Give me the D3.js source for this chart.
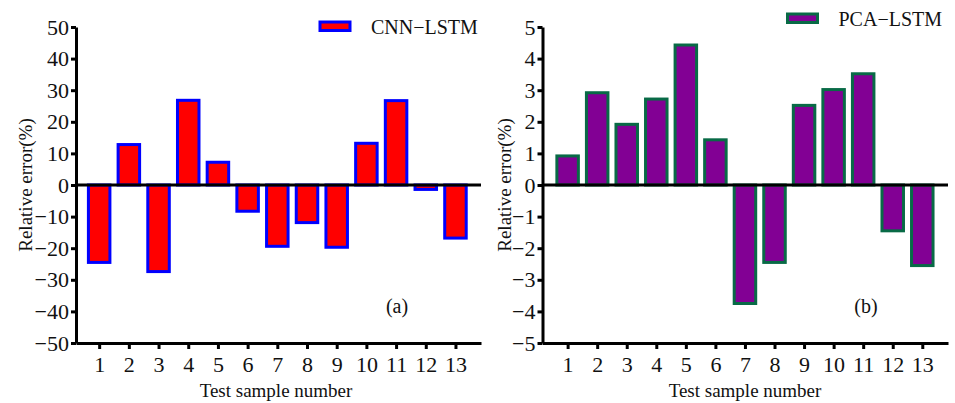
<!DOCTYPE html>
<html>
<head>
<meta charset="utf-8">
<script src="https://cdn.jsdelivr.net/npm/d3@7"></script>
<style>
  body { margin: 0; background: #fff; }
  svg text { font-family: "Liberation Serif", "Times New Roman", serif; fill: #111; }
</style>
</head>
<body>
<script>
// samples 1..13
var samples = [1, 2, 3, 4, 5, 6, 7, 8, 9, 10, 11, 12, 13];
// relative error (%)
var cnnLstm = [-24.5, 12.8, -27.4, 26.8, 7.2, -8.3, -19.4, -11.9, -19.7, 13.2, 26.7, -1.4, -16.8];
var pcaLstm = [0.92, 2.92, 1.92, 2.72, 4.43, 1.43, -3.75, -2.45, 2.52, 3.02, 3.52, -1.45, -2.55];
var leftTicks = [-50, -40, -30, -20, -10, 0, 10, 20, 30, 40, 50];
var rightTicks = [-5, -4, -3, -2, -1, 0, 1, 2, 3, 4, 5];

var W = 955, H = 403;
var serif = "Liberation Serif, Times New Roman, serif";

var svg = d3.select("body").append("svg")
    .attr("width", W)
    .attr("height", H);

function minus(v) {
    return v < 0 ? "\u2212" + Math.abs(v) : String(v);
}

function panel(opt) {
    var g = svg.append("g");

    var xScale = d3.scaleLinear()
        .domain(opt.xDomain)
        .range([opt.x0, opt.x1]);
    var yScale = d3.scaleLinear()
        .domain([opt.ticks[0], opt.ticks[opt.ticks.length - 1]])
        .range([opt.y1, opt.y0]);

    var barW = 21.5;

    // bars
    g.append("g").selectAll("rect")
        .data(opt.values)
        .enter()
        .append("rect")
        .attr("x", function(d, i) { return xScale(samples[i]) - barW / 2; })
        .attr("y", function(d) { return Math.min(yScale(d), yScale(0)); })
        .attr("width", barW)
        .attr("height", function(d) { return Math.abs(yScale(d) - yScale(0)); })
        .attr("fill", opt.fill)
        .attr("stroke", opt.stroke)
        .attr("stroke-width", 3);

    // zero line
    g.append("line")
        .attr("x1", opt.x0)
        .attr("x2", opt.x1)
        .attr("y1", yScale(0))
        .attr("y2", yScale(0))
        .attr("stroke", "#000")
        .attr("stroke-width", 3);

    // y axis
    var yAxis = d3.axisLeft(yScale)
        .tickValues(opt.ticks)
        .tickFormat(minus)
        .tickSizeInner(5)
        .tickSizeOuter(0)
        .tickPadding(2);
    var yg = g.append("g")
        .attr("transform", "translate(" + opt.x0 + ",0)")
        .call(yAxis)
        .attr("font-family", serif)
        .attr("font-size", 22);
    yg.select(".domain").attr("stroke-width", 3).attr("stroke", "#000");
    yg.selectAll(".tick line").attr("stroke-width", 3).attr("stroke", "#000");
    yg.selectAll("text").style("font-size", "22px").attr("fill", "#111");

    // x axis
    var xAxis = d3.axisBottom(xScale)
        .tickValues(samples)
        .tickFormat(d3.format("d"))
        .tickSizeInner(6)
        .tickSizeOuter(0)
        .tickPadding(7);
    var xg = g.append("g")
        .attr("transform", "translate(0," + opt.y1 + ")")
        .call(xAxis)
        .attr("font-family", serif)
        .attr("font-size", 22);
    xg.select(".domain").attr("stroke-width", 3).attr("stroke", "#000");
    xg.selectAll(".tick line").attr("stroke-width", 3).attr("stroke", "#000");
    xg.selectAll("text").style("font-size", "22px").attr("fill", "#111");

    // axis titles
    g.append("text")
        .attr("transform", "translate(" + opt.yLabelX + "," + ((opt.y0 + opt.y1) / 2) + ") rotate(-90)")
        .attr("text-anchor", "middle")
        .attr("font-size", 19)
        .text("Relative error(%)");

    g.append("text")
        .attr("x", opt.xLabelX)
        .attr("y", 397)
        .attr("text-anchor", "middle")
        .attr("font-size", 19)
        .text("Test sample number");

    // legend
    g.append("rect")
        .attr("x", opt.legX)
        .attr("y", opt.legY)
        .attr("width", 30)
        .attr("height", 8.5)
        .attr("fill", opt.fill)
        .attr("stroke", opt.stroke)
        .attr("stroke-width", 3);
    g.append("text")
        .attr("x", opt.legX + 51)
        .attr("y", opt.legY + 11.5)
        .attr("font-size", 20)
        .text(opt.name);

    // panel tag
    g.append("text")
        .attr("x", opt.tagX)
        .attr("y", 313)
        .attr("text-anchor", "middle")
        .attr("font-size", 20)
        .text(opt.tag);
}

panel({
    values: cnnLstm, ticks: leftTicks, name: "CNN\u2212LSTM", tag: "(a)",
    fill: "#ff0000", stroke: "#0000ff",
    x0: 76, x1: 481, y0: 27, y1: 343, xDomain: [0.22, 13.86],
    yLabelX: 32, xLabelX: 276, legX: 320, legY: 22, tagX: 397
});

panel({
    values: pcaLstm, ticks: rightTicks, name: "PCA\u2212LSTM", tag: "(b)",
    fill: "#820094", stroke: "#086a46",
    x0: 542.5, x1: 948, y0: 27, y1: 343, xDomain: [0.15, 13.87],
    yLabelX: 511, xLabelX: 745, legX: 787.5, legY: 14, tagX: 866
});
</script>
</body>
</html>
